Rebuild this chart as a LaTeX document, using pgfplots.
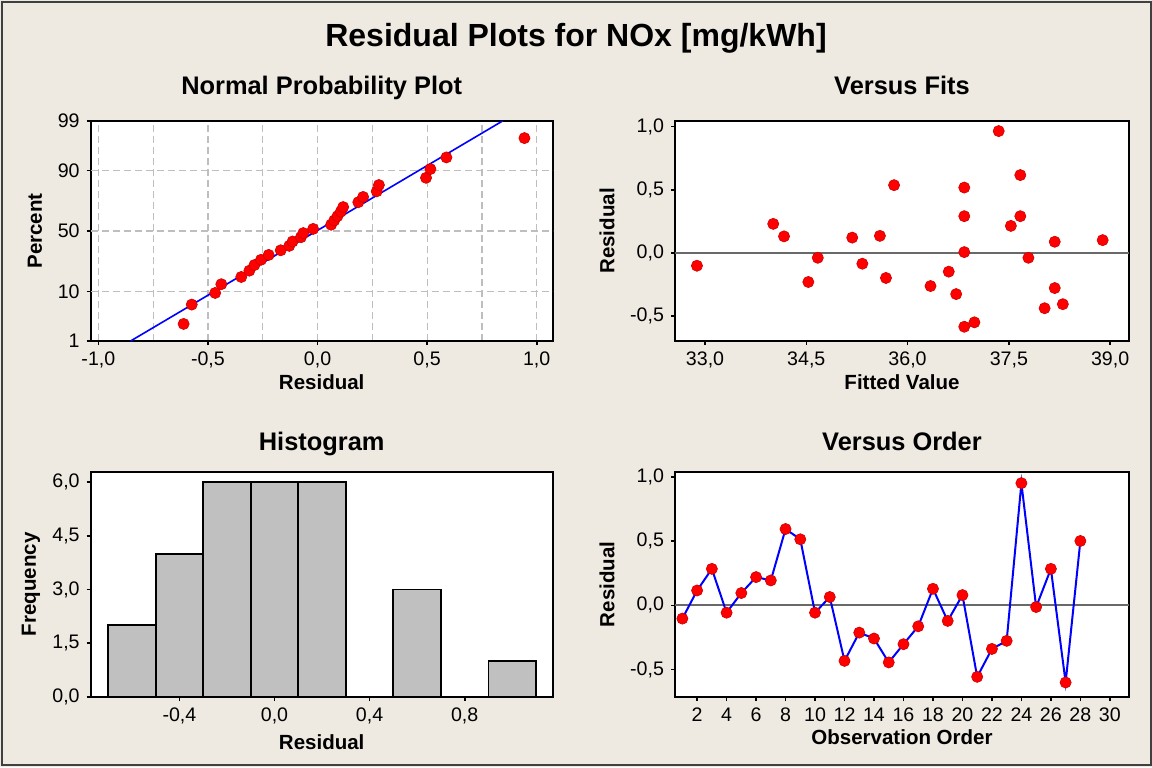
\documentclass[border=0pt]{standalone}
\usepackage{fontspec}
\setmainfont{Liberation Sans}
\usepackage{pgfplots}
\pgfplotsset{compat=1.18}

\definecolor{bgbeige}{RGB}{238,234,225}
\definecolor{barfill}{RGB}{192,192,192}
\definecolor{gridgray}{RGB}{190,190,190}
\definecolor{refgray}{RGB}{105,105,105}
\definecolor{mtbblue}{RGB}{0,0,255}
\definecolor{mtbred}{RGB}{255,0,0}

% 1 px of the reference = 0.5pt
\pgfplotsset{
  mtb/.style={
    scale only axis,
    anchor=south west,
    axis background/.style={fill=white},
    axis line style={line width=0.9pt},
    tick align=outside,
    tick pos=left,
    major tick length=2pt,
    minor tick length=0pt,
    every tick/.style={black, line width=0.8pt},
    tick label style={font=\fontsize{9.8}{11}\selectfont},
    label style={font=\bfseries\fontsize{10.25}{12}\selectfont},
    every axis title shift=0pt,
    title style={font=\bfseries\fontsize{12.7}{14}\selectfont, anchor=base},
    /pgf/number format/assume math mode=true,
    /pgf/number format/use comma,
    /pgf/number format/fixed,
    /pgf/number format/fixed zerofill,
    /pgf/number format/precision=1,
    ylabel style={anchor=center},
    xlabel style={anchor=base},
  },
  dots/.style={only marks, mark=*, mark size=2.8pt,
    mark options={fill=mtbred, draw=mtbred!80!black, line width=0.3pt}},
}

\begin{document}
\begin{tikzpicture}
\useasboundingbox (0,0) rectangle (576pt,383.5pt);
\fill[bgbeige] (0,0) rectangle (576pt,383.5pt);
\draw[black!75, line width=0.8pt] (1pt,1pt) rectangle (575.5pt,382.5pt);

\node[anchor=base, font=\bfseries\fontsize{16}{18}\selectfont] at (288pt,360.2pt)
  {Residual Plots for NOx [mg/kWh]};

% ---------------- Normal Probability Plot ----------------
\begin{axis}[mtb,
  at={(45.35pt,213pt)}, width=231pt, height=110pt,
  xmin=-1.035, xmax=1.073, ymin=-2.3263, ymax=2.3263,
  xtick={-1,-0.5,0,0.5,1},
  minor xtick={-0.75,-0.25,0.25,0.75},
  xmajorgrids, xminorgrids,
  ytick={-2.3263,2.3263}, yticklabels={1,99},
  extra y ticks={-1.2816,0,1.2816}, extra y tick labels={10,50,90},
  extra y tick style={ymajorgrids},
  grid style={gridgray, line width=0.6pt, dash pattern=on 3.5pt off 2pt},
  title={Normal Probability Plot},
  title style={at={(0.5,1.1227)}},
  xlabel={Residual}, xlabel style={at={(axis description cs:0.5,-0.2227)}},
  ylabel={Percent}, ylabel style={at={(axis description cs:-0.1206,0.5)}},
]
\addplot[mtbblue, line width=0.8pt] coordinates {(-0.853,-2.3263) (0.844,2.3263)};
\addplot[dots] coordinates {
(-0.611,-1.965) (-0.574,-1.556) (-0.467,-1.310) (-0.439,-1.125)
(-0.348,-0.972) (-0.311,-0.839) (-0.288,-0.720) (-0.258,-0.609)
(-0.223,-0.506) (-0.168,-0.408) (-0.129,-0.314) (-0.114,-0.222)
(-0.076,-0.133) (-0.065,-0.044) (-0.020,0.044) (0.062,0.133)
(0.076,0.222) (0.091,0.314) (0.106,0.408) (0.117,0.506)
(0.186,0.609) (0.208,0.720) (0.270,0.839) (0.280,0.972)
(0.495,1.125) (0.515,1.310) (0.588,1.556) (0.944,1.965)
};
\end{axis}

% ---------------- Versus Fits ----------------
\begin{axis}[mtb,
  at={(337.5pt,213pt)}, width=227pt, height=110pt,
  xmin=32.555, xmax=39.28, ymin=-0.70, ymax=1.045,
  xtick={33,34.5,36,37.5,39},
  ytick={-0.5,0,0.5,1},
  title={Versus Fits},
  title style={at={(0.5,1.1227)}},
  xlabel={Fitted Value}, xlabel style={at={(axis description cs:0.5,-0.2227)}},
  ylabel={Residual}, ylabel style={at={(axis description cs:-0.1498,0.5)}},
]
\addplot[refgray, line width=0.9pt] coordinates {(32.555,0) (39.28,0)};
\addplot[dots] coordinates {
(32.88,-0.103) (34.01,0.229) (34.17,0.130) (34.53,-0.232) (34.67,-0.040)
(35.18,0.120) (35.33,-0.087) (35.59,0.134) (35.68,-0.200) (35.80,0.536)
(36.34,-0.264) (36.61,-0.150) (36.72,-0.328) (36.84,0.517) (36.84,0.290)
(36.84,0.005) (36.84,-0.587) (36.99,-0.552) (37.35,0.965) (37.53,0.213)
(37.67,0.616) (37.67,0.290) (37.79,-0.040) (38.18,0.087) (38.18,-0.280)
(38.03,-0.440) (38.30,-0.408) (38.89,0.100)
};
\end{axis}

% ---------------- Histogram ----------------
\begin{axis}[mtb,
  at={(45.35pt,35pt)}, width=231pt, height=112.65pt,
  xmin=-0.773, xmax=1.17, ymin=0, ymax=6.29,
  xtick={-0.4,0,0.4,0.8},
  ytick={0,1.5,3,4.5,6},
  title={Histogram},
  title style={at={(0.5,1.093)}},
  xlabel={Residual}, xlabel style={at={(axis description cs:0.5,-0.2308)}},
  ylabel={Frequency}, ylabel style={at={(axis description cs:-0.1292,0.5)}},
]
\addplot[ybar interval, fill=barfill, draw=black, line width=0.9pt] coordinates {
(-0.7,2) (-0.5,4) (-0.3,6) (-0.1,6) (0.1,6) (0.3,0) (0.5,3) (0.7,0) (0.9,1) (1.1,0)
};
\end{axis}

% ---------------- Versus Order ----------------
\begin{axis}[mtb,
  at={(337.5pt,35pt)}, width=227pt, height=112.65pt,
  xmin=0.5, xmax=31.3, ymin=-0.713, ymax=1.04,
  xtick={2,4,...,30},
  xticklabel style={/pgf/number format/precision=0},
  ytick={-0.5,0,0.5,1},
  title={Versus Order},
  title style={at={(0.5,1.093)}},
  xlabel={Observation Order}, xlabel style={at={(axis description cs:0.5,-0.213)}},
  ylabel={Residual}, ylabel style={at={(axis description cs:-0.1498,0.5)}},
]
\addplot[refgray, line width=0.9pt] coordinates {(0.5,0) (31.3,0)};
\addplot[mtbblue, line width=1pt, mark=*, mark size=2.8pt,
  mark options={fill=mtbred, draw=mtbred!80!black, line width=0.3pt}] coordinates {
(1,-0.103) (2,0.116) (3,0.284) (4,-0.057) (5,0.096) (6,0.220) (7,0.194)
(8,0.594) (9,0.514) (10,-0.057) (11,0.065) (12,-0.432) (13,-0.212) (14,-0.258)
(15,-0.444) (16,-0.302) (17,-0.163) (18,0.129) (19,-0.121) (20,0.080) (21,-0.556)
(22,-0.339) (23,-0.276) (24,0.951) (25,-0.013) (26,0.284) (27,-0.600) (28,0.501)
};
\end{axis}
\end{tikzpicture}
\end{document}
